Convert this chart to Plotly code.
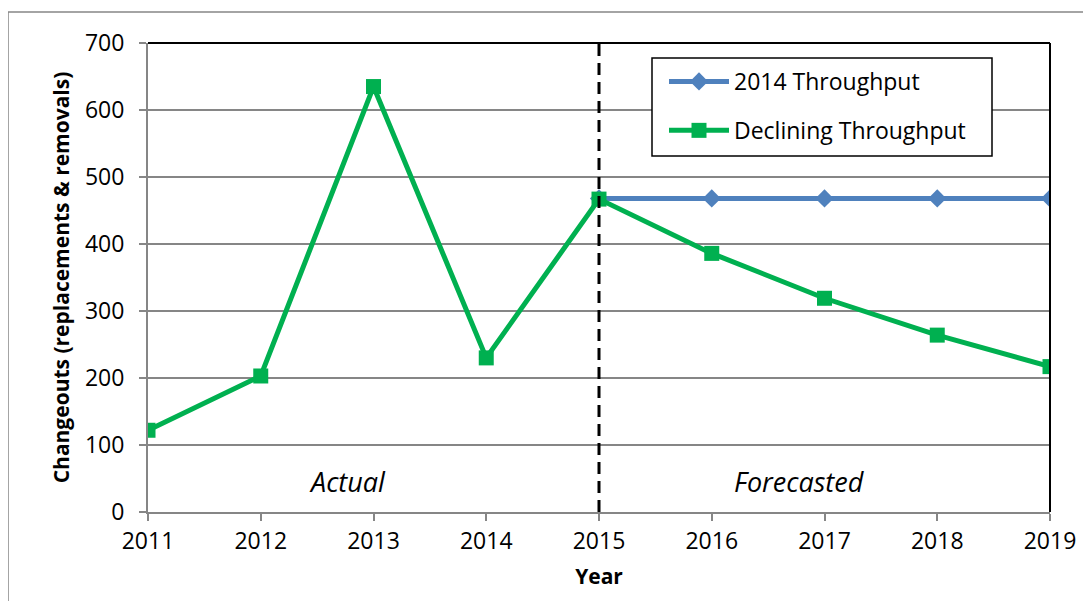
import plotly.graph_objects as go

years = [2011, 2012, 2013, 2014, 2015, 2016, 2017, 2018, 2019]
declining = [122, 203, 635, 230, 467, 386, 319, 264, 217]
flat_years = [2015, 2016, 2017, 2018, 2019]
flat_2014 = [468, 468, 468, 468, 468]
y_ticks = [0, 100, 200, 300, 400, 500, 600, 700]

# page is offset by the default 8px body margin
OFF = 8
W, H = 1091 - OFF, 601 - OFF
L, R, T, B = 148 - OFF, 1050 - OFF, 43 - OFF, 512 - OFF
pw, ph = R - L, B - T

def px(x):
    return (x - OFF - L) / pw

def py(y):
    return (B - (y - OFF)) / ph

FONT = "Open Sans"
BLUE = "#4F81BD"
GREEN = "#00B050"

fig = go.Figure()
fig.add_trace(go.Scatter(
    x=flat_years, y=flat_2014, name="2014 Throughput", mode="lines+markers",
    legendgroup="a",
    line=dict(color=BLUE, width=5),
    marker=dict(symbol="diamond", size=14, color=BLUE),
))
fig.add_trace(go.Scatter(
    x=years, y=declining, name="Declining Throughput", mode="lines+markers",
    legendgroup="b",
    line=dict(color=GREEN, width=5),
    marker=dict(symbol="square", size=15, color=GREEN),
))

shapes = [
    dict(type="rect", xref="paper", yref="paper", x0=px(8), x1=px(1110), y0=py(620), y1=py(12),
         line=dict(color="#878787", width=1.5), fillcolor="rgba(0,0,0,0)", layer="below"),
    dict(type="line", xref="paper", yref="paper", x0=0, x1=1, y0=1, y1=1,
         line=dict(color="black", width=2)),
    dict(type="line", xref="paper", yref="paper", x0=1, x1=1, y0=0, y1=1,
         line=dict(color="black", width=2)),
    dict(type="line", xref="x", yref="paper", x0=2015, x1=2015, y0=0, y1=1,
         line=dict(color="black", width=3, dash="12px,7px"), layer="above"),
    # legend frame
    dict(type="rect", xref="paper", yref="paper", x0=px(652), x1=px(992), y0=py(156), y1=py(58),
         line=dict(color="black", width=1.5), fillcolor="white", layer="above"),
]

annotations = [
    dict(x=2012.77, y=46, xref="x", yref="y", text="<i>Actual</i>", showarrow=False,
         font=dict(family=FONT, size=27, color="black")),
    dict(x=2016.78, y=46, xref="x", yref="y", text="<i>Forecasted</i>", showarrow=False,
         font=dict(family=FONT, size=27, color="black")),
]

fig.update_layout(
    width=W, height=H,
    margin=dict(l=L, r=W - R, t=T, b=H - B, pad=0),
    paper_bgcolor="white", plot_bgcolor="white",
    font=dict(family=FONT, size=23, color="black"),
    showlegend=True,
    legend=dict(
        x=px(664), y=py(60), xanchor="left", yanchor="top",
        borderwidth=0, bgcolor="rgba(0,0,0,0)",
        font=dict(family=FONT, size=23, color="black"),
        itemwidth=60, tracegroupgap=16,
    ),
    shapes=shapes,
    annotations=annotations,
    xaxis=dict(
        range=[2011, 2019], tickvals=years, ticktext=[str(y) for y in years],
        showgrid=False, showline=True, linecolor="#868686", linewidth=2,
        ticks="outside", ticklen=7, tickcolor="#868686", tickwidth=1.5,
        zeroline=False,
        title=dict(text="<b>Year</b>", font=dict(family=FONT, size=21), standoff=15),
        tickfont=dict(family=FONT, size=23),
    ),
    yaxis=dict(
        range=[0, 700], tickvals=y_ticks,
        showgrid=True, gridcolor="#868686", gridwidth=1.5,
        showline=True, linecolor="#868686", linewidth=2,
        ticks="outside", ticklen=7, tickcolor="#868686", tickwidth=1.5,
        ticklabelstandoff=10,
        zeroline=False,
        title=dict(text="<b>Changeouts (replacements &amp; removals)</b>",
                   font=dict(family=FONT, size=21), standoff=10),
        tickfont=dict(family=FONT, size=23),
    ),
)

fig.write_html("out.html")
